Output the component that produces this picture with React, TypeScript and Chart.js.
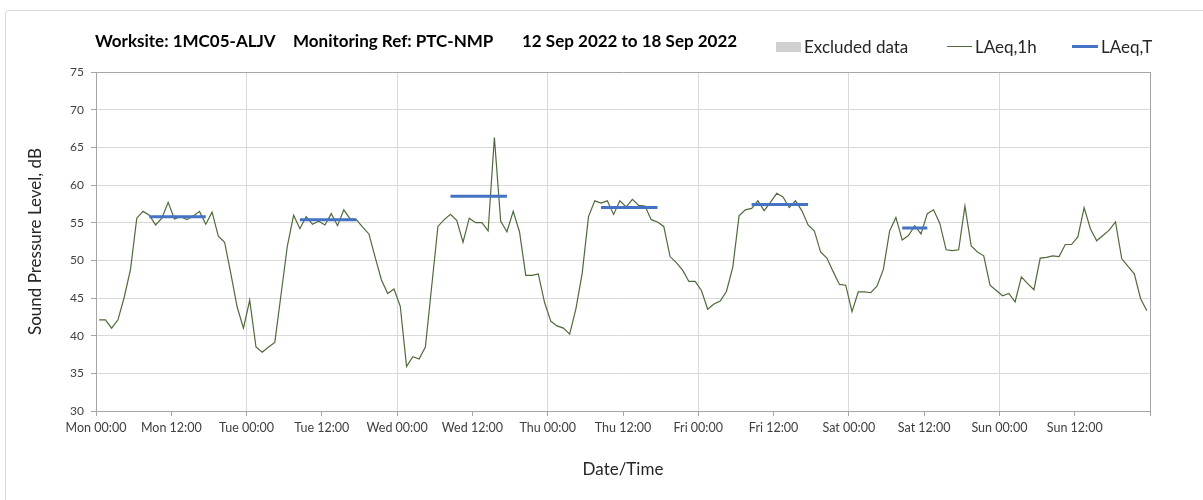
import React, { useEffect, useRef } from "react";
import { Chart, registerables } from "chart.js";

Chart.register(...registerables);

// Hourly LAeq,1h values, Mon 00:00 .. Sun 23:00 (plotted at mid-hour)
const laeq1h: number[] = [
  42.1, 42.1, 41.0, 42.1, 45.1, 48.8, 55.6, 56.5, 56.0, 54.7, 55.6, 57.7,
  55.5, 55.8, 55.4, 55.9, 56.5, 54.8, 56.4, 53.2, 52.4, 48.2, 43.8, 41.0,
  44.7, 38.5, 37.8, 38.5, 39.1, 45.5, 51.9, 56.0, 54.2, 55.8, 54.8, 55.2,
  54.7, 56.2, 54.6, 56.7, 55.5, 55.4, 54.4, 53.5, 50.4, 47.4, 45.6, 46.2,
  43.9, 35.9, 37.2, 36.9, 38.5, 46.5, 54.5, 55.4, 56.1, 55.3, 52.4, 55.6,
  55.0, 55.0, 53.9, 66.3, 55.2, 53.8, 56.5, 53.8, 48.0, 48.0, 48.2, 44.4,
  41.9, 41.3, 41.0, 40.2, 43.6, 48.3, 55.8, 57.9, 57.6, 57.9, 56.1, 57.9,
  57.1, 58.1, 57.3, 57.2, 55.4, 55.1, 54.5, 50.5, 49.7, 48.7, 47.2, 47.2,
  46.0, 43.5, 44.2, 44.6, 45.9, 49.1, 55.9, 56.7, 56.9, 57.9, 56.6, 57.7,
  58.9, 58.4, 57.0, 57.9, 56.6, 54.7, 53.9, 51.1, 50.3, 48.5, 46.8, 46.7,
  43.2, 45.8, 45.8, 45.7, 46.6, 48.8, 53.9, 55.7, 52.7, 53.3, 54.6, 53.5,
  56.2, 56.7, 54.9, 51.4, 51.3, 51.4, 57.2, 51.9, 51.1, 50.6, 46.7, 46.0,
  45.3, 45.6, 44.5, 47.8, 46.9, 46.1, 50.3, 50.4, 50.6, 50.5, 52.1, 52.1,
  53.1, 57.0, 54.2, 52.6, 53.3, 54.0, 55.1, 50.2, 49.2, 48.2, 44.9, 43.3,
];

// LAeq,T assessment periods (hours from Mon 00:00) and levels
const periodStart: number[] = [8.5, 32.5, 56.5, 80.5, 104.5, 128.5];
const periodEnd: number[] = [17.5, 41.5, 65.5, 89.5, 113.5, 132.5];
const laeqT: number[] = [55.8, 55.4, 58.5, 57.0, 57.4, 54.3];

const xTickLabels: string[] = [
  "Mon 00:00", "Mon 12:00", "Tue 00:00", "Tue 12:00", "Wed 00:00", "Wed 12:00",
  "Thu 00:00", "Thu 12:00", "Fri 00:00", "Fri 12:00", "Sat 00:00", "Sat 12:00",
  "Sun 00:00", "Sun 12:00", "",
];
const yMin = 30;
const yMax = 75;
const yStep = 5;

const FONT = "Lato, 'Open Sans', sans-serif";
const BORDER = "#a6a6a6";
const GRID = "#d9d9d9";

export default function App() {
  const canvasRef = useRef<HTMLCanvasElement | null>(null);

  useEffect(() => {
    const canvas = canvasRef.current;
    if (!canvas) return;

    const hourly = laeq1h.map((v, i) => ({ x: i + 0.5, y: v }));
    const periods: { x: number; y: number | null }[] = [];
    periodStart.forEach((s, i) => {
      periods.push({ x: s, y: laeqT[i] });
      periods.push({ x: periodEnd[i], y: laeqT[i] });
      periods.push({ x: periodEnd[i] + 0.01, y: null });
    });
    const xMax = (xTickLabels.length - 1) * 12;

    const chart = new Chart(canvas, {
      type: "line",
      data: {
        datasets: [
          {
            label: "LAeq,T",
            data: periods,
            borderColor: "#4472c4",
            borderWidth: 3,
            borderCapStyle: "butt",
            pointRadius: 0,
            spanGaps: false,
            tension: 0,
            order: 0,
          },
          {
            label: "LAeq,1h",
            data: hourly,
            borderColor: "#4f6a3a",
            borderWidth: 1.2,
            pointRadius: 0,
            tension: 0,
            order: 1,
          },
        ],
      },
      options: {
        responsive: false,
        maintainAspectRatio: false,
        animation: false,
        devicePixelRatio: 1,
        layout: { padding: { left: 25, right: 53, top: 72, bottom: 0 } },
        plugins: {
          legend: { display: false },
          title: { display: false },
          tooltip: { enabled: false },
        },
        scales: {
          x: {
            type: "linear",
            min: 0,
            max: xMax,
            afterFit: (scale: any) => {
              scale.height = 89;
            },
            afterBuildTicks: (scale: any) => {
              scale.ticks = xTickLabels.map((_, i) => ({ value: i * 12 }));
            },
            ticks: {
              autoSkip: false,
              maxRotation: 0,
              minRotation: 0,
              padding: 4,
              color: "#404040",
              font: { family: FONT, size: 12.5 },
              callback: (v: any) => xTickLabels[Math.round(Number(v) / 12)] ?? "",
            },
            grid: {
              drawTicks: true,
              tickLength: 5,
              tickColor: BORDER,
              color: (ctx: any) => {
                const v = ctx.tick ? ctx.tick.value : 0;
                if (v === xMax) return BORDER;
                return v % 24 === 0 ? GRID : "rgba(0,0,0,0)";
              },
            },
            border: { display: true, color: BORDER, width: 1 },
            title: {
              display: true,
              text: "Date/Time",
              color: "#262626",
              font: { family: FONT, size: 17 },
              padding: { top: 0, bottom: 20 },
            },
          },
          y: {
            type: "linear",
            min: yMin,
            max: yMax,
            afterFit: (scale: any) => {
              scale.width = 71;
            },
            ticks: {
              stepSize: yStep,
              padding: 7,
              color: "#404040",
              font: { family: FONT, size: 12 },
            },
            grid: {
              drawTicks: true,
              tickLength: 5,
              tickColor: BORDER,
              color: (ctx: any) => (ctx.tick && ctx.tick.value === yMax ? BORDER : GRID),
            },
            border: { display: true, color: BORDER, width: 1 },
            title: {
              display: true,
              text: "Sound Pressure Level, dB",
              color: "#262626",
              font: { family: FONT, size: 17 },
              padding: { top: 0, bottom: 0 },
            },
          },
        },
      },
    } as any);

    return () => chart.destroy();
  }, []);

  const textBase: React.CSSProperties = {
    position: "absolute",
    fontFamily: FONT,
    fontSize: 17,
    lineHeight: "20px",
    whiteSpace: "pre",
    color: "#262626",
  };

  return (
    <div
      style={{
        position: "fixed",
        left: 0,
        top: 0,
        width: 1203,
        height: 500,
        background: "#ffffff",
        overflow: "hidden",
      }}
    >
      <div
        style={{
          position: "absolute",
          left: 5,
          top: 10,
          width: 1220,
          height: 520,
          border: "1px solid #d9d9d9",
          borderRadius: 4,
        }}
      />
      <canvas
        ref={canvasRef}
        width={1203}
        height={500}
        style={{ position: "absolute", left: 0, top: 0, display: "block" }}
      />
      <div style={{ ...textBase, left: 95, top: 31, fontWeight: 700, color: "#000" }}>
        Worksite: 1MC05-ALJV
      </div>
      <div style={{ ...textBase, left: 293, top: 31, fontWeight: 700, color: "#000" }}>
        Monitoring Ref: PTC-NMP
      </div>
      <div style={{ ...textBase, left: 522, top: 31, fontWeight: 700, color: "#000" }}>
        12 Sep 2022 to 18 Sep 2022
      </div>

      <div
        style={{
          position: "absolute",
          left: 776,
          top: 42,
          width: 25,
          height: 10,
          background: "#d0d0d0",
        }}
      />
      <div style={{ ...textBase, left: 804, top: 37 }}>Excluded data</div>
      <div
        style={{
          position: "absolute",
          left: 947,
          top: 46,
          width: 25,
          height: 1,
          background: "#4f6a3a",
        }}
      />
      <div style={{ ...textBase, left: 975, top: 37 }}>LAeq,1h</div>
      <div
        style={{
          position: "absolute",
          left: 1072,
          top: 45,
          width: 26,
          height: 3,
          background: "#4472c4",
        }}
      />
      <div style={{ ...textBase, left: 1101, top: 37 }}>LAeq,T</div>
    </div>
  );
}
